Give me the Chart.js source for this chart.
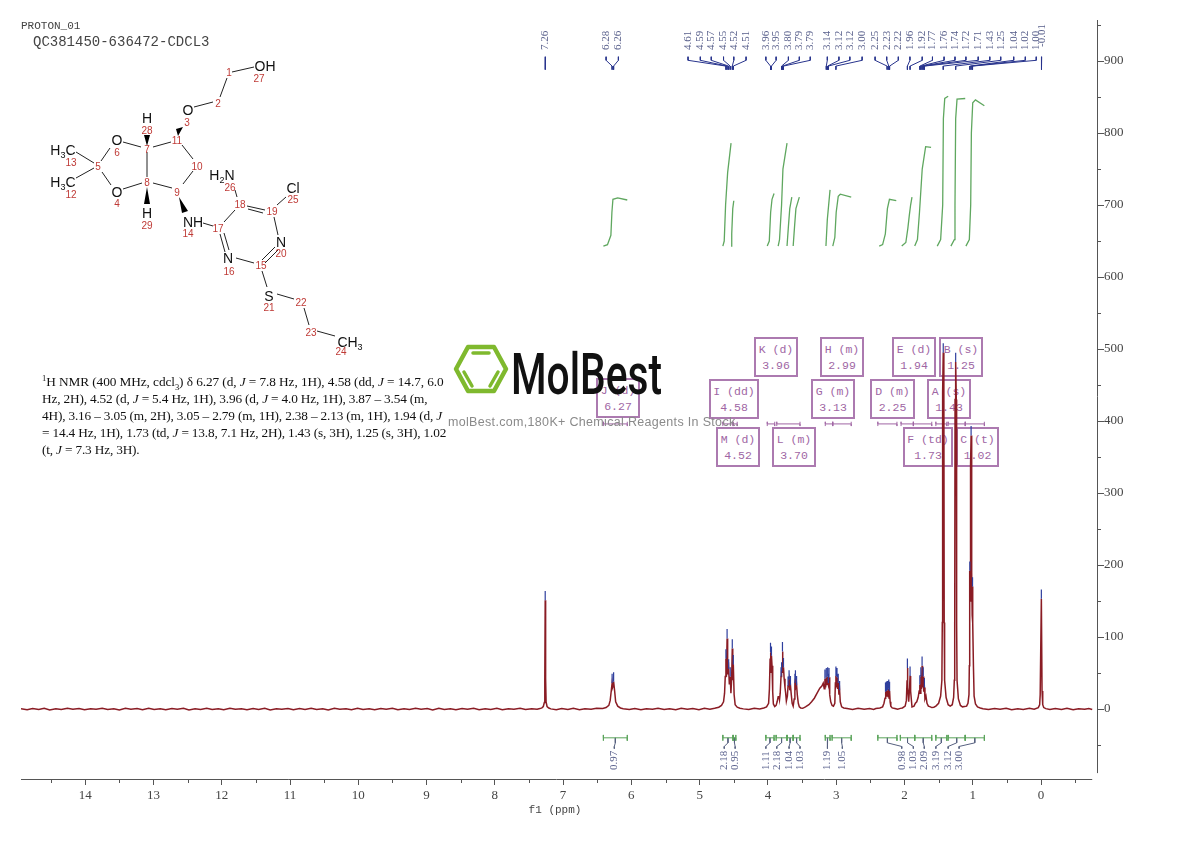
<!DOCTYPE html>
<html lang="en">
<head>
<meta charset="UTF-8">
<title>PROTON_01 QC381450-636472-CDCL3</title>
<script src="https://cdn.jsdelivr.net/npm/chart.js@4"></script>
<style>
    html, body { margin: 0; padding: 0; background: #fff; }
    #page { position: relative; width: 1190px; height: 841px; overflow: hidden; }
    #plot { position: absolute; left: 0; top: 0; z-index: 1; display: block; }
    .box {
        position: absolute; box-sizing: border-box; z-index: 0;
        border: 2px solid #ac7ab0; color: #a066a4; text-align: center;
        font: 11.5px/16px "Liberation Mono", monospace; padding-top: 3px; white-space: pre;
    }
    .head { position: absolute; z-index: 2; font-family: "Liberation Mono", monospace; color: #444; white-space: pre; }
    #notes {
        position: absolute; z-index: 2; left: 42px; top: 373px; white-space: nowrap;
        font: 13.3px/17px "Liberation Serif", serif; color: #111; letter-spacing: -0.08px;
    }
    #notes span { letter-spacing: -0.17px; }
    #notes sup, #notes sub { font-size: 8.5px; line-height: 0; }
    #mol, #logo { position: absolute; left: 0; top: 0; z-index: 2; pointer-events: none; }
</style>
</head>
<body>
<div id="page">
    <canvas id="plot" width="1190" height="841"></canvas>
    <div class="head" style="left:21px;top:20px;font-size:11px">PROTON_01</div>
    <div class="head" style="left:33px;top:34px;font-size:14px">QC381450-636472-CDCL3</div>
    <div id="notes"><sup>1</sup>H NMR (400 MHz, cdcl<sub>3</sub>) δ 6.27 (d, <i>J</i> = 7.8 Hz, 1H), 4.58 (dd, <i>J</i> = 14.7, 6.0<br><span>Hz, 2H), 4.52 (d, <i>J</i> = 5.4 Hz, 1H), 3.96 (d, <i>J</i> = 4.0 Hz, 1H), 3.87 – 3.54 (m,<br>4H), 3.16 – 3.05 (m, 2H), 3.05 – 2.79 (m, 1H), 2.38 – 2.13 (m, 1H), 1.94 (d, <i>J</i><br>= 14.4 Hz, 1H), 1.73 (td, <i>J</i> = 13.8, 7.1 Hz, 2H), 1.43 (s, 3H), 1.25 (s, 3H), 1.02<br>(t, <i>J</i> = 7.3 Hz, 3H).</span></div>

    <svg id="mol" width="1190" height="841" font-family="Liberation Sans, sans-serif">
        <path fill="none" stroke="#222" stroke-width="1" d="M232 72L254 67M227 78L220 97M213 102L194 107M171 142L153 147M182 145L193 159M193 171L183 184M172 188L153 183M147 177L147 152M141 147L123 142M142 183L123 189M110 148L101 161M111 185L102 172M94 163L76 152M94 168L76 178M203 223L213 226M224 222L235 210M247 206L265 210M248 209L263 213M277 205L286 197M237 197L235 190M274 217L278 235M275 247L262 260M278 250L265 263M254 263L236 258M225 252L220 234M229 250L224 233M262 271L267 287M277 294L294 299M304 308L309 325M317 331L335 336"/>
        <path fill="#000" d="M178 136L176 129L183 127ZM147 146L144 135L150 135ZM147 187L144 204L150 204ZM179 197L182 213L188 211Z"/>
        <g font-size="14" fill="#111" text-anchor="middle">
            <text x="265" y="71">OH</text><text x="188" y="115">O</text><text x="147" y="123">H</text>
            <text x="117" y="145">O</text><text x="117" y="197">O</text><text x="147" y="218">H</text>
            <text x="193" y="227">NH</text><text x="293" y="193">Cl</text><text x="281" y="247">N</text>
            <text x="228" y="263">N</text><text x="269" y="301">S</text>
            <text x="63" y="155">H<tspan font-size="9" dy="3">3</tspan><tspan dy="-3">C</tspan></text>
            <text x="63" y="187">H<tspan font-size="9" dy="3">3</tspan><tspan dy="-3">C</tspan></text>
            <text x="222" y="180">H<tspan font-size="9" dy="3">2</tspan><tspan dy="-3">N</tspan></text>
            <text x="350" y="347">CH<tspan font-size="9" dy="3">3</tspan></text>
        </g>
        <g font-size="10" fill="#bf3a36" text-anchor="middle">
            <text x="229" y="76">1</text><text x="218" y="107">2</text><text x="187" y="126">3</text><text x="117" y="207">4</text>
            <text x="98" y="170">5</text><text x="117" y="156">6</text><text x="147" y="153">7</text><text x="147" y="186">8</text>
            <text x="177" y="196">9</text><text x="197" y="170">10</text><text x="177" y="144">11</text><text x="71" y="198">12</text>
            <text x="71" y="166">13</text><text x="188" y="237">14</text><text x="261" y="269">15</text><text x="229" y="275">16</text>
            <text x="218" y="232">17</text><text x="240" y="208">18</text><text x="272" y="215">19</text><text x="281" y="257">20</text>
            <text x="269" y="311">21</text><text x="301" y="306">22</text><text x="311" y="336">23</text><text x="341" y="355">24</text>
            <text x="293" y="203">25</text><text x="230" y="191">26</text><text x="259" y="82">27</text><text x="147" y="134">28</text>
            <text x="147" y="229">29</text>
        </g>
    </svg>

    <svg id="logo" width="1190" height="841">
        <path fill="none" stroke="#7fb92e" stroke-width="4.5" stroke-linejoin="round" d="M456 369L468 347H494L506 369L494 391H468Z"/>
        <path fill="none" stroke="#7fb92e" stroke-width="3.500" stroke-linecap="round" d="M473 353H489M464 372L472 386M498 372L490 386"/>
        <text x="511" y="394" font-family="Roboto, sans-serif" font-weight="500" font-size="57" fill="#111" textLength="151" lengthAdjust="spacingAndGlyphs">MolBest</text>
        <text x="448" y="426" font-family="Liberation Sans, sans-serif" font-size="12.500" fill="#8a8a8a" textLength="291" lengthAdjust="spacing">molBest.com,180K+ Chemical Reagents In Stock.</text>
    </svg>
</div>

<script>
    // axis ticks
    const xTickValues = [14, 13, 12, 11, 10, 9, 8, 7, 6, 5, 4, 3, 2, 1, 0];
    const xMinorValues = [14.5, 13.5, 12.5, 11.5, 10.5, 9.5, 8.5, 7.5, 6.5, 5.5, 4.5, 3.5, 2.5, 1.5, 0.5, -0.5];
    const yTickValues = [900, 800, 700, 600, 500, 400, 300, 200, 100, 0];
    const yMinorValues = [950, 850, 750, 650, 550, 450, 350, 250, 150, 50, -50];

    // spectrum, [ppm, intensity], region by region
    const baselineLow = [[14.94,0.4],[14.85,-0.9],[14.77,0.8],[14.68,-0.5],[14.6,1.1],[14.52,-1.2],[14.43,0.3],[14.35,-0.7],[14.26,1.0],[14.18,-0.4],[14.09,0.7],[14.01,-1.1],[13.92,0.5],[13.84,-0.3],[13.75,1.2],[13.67,-0.8],[13.58,0.2],[13.5,-1.3],[13.41,0.9],[13.33,-0.2],[13.24,0.6],[13.16,-1.0],[13.07,1.1],[12.99,-0.6],[12.9,0.4],[12.82,-0.9],[12.73,0.8],[12.65,-0.3],[12.56,1.0],[12.48,-1.2],[12.39,0.3],[12.31,-0.5],[12.22,0.9],[12.14,-0.8],[12.05,0.5],[11.97,-1.1],[11.88,1.2],[11.8,-0.4],[11.71,0.2],[11.63,-0.9],[11.54,0.7],[11.46,-0.6],[11.37,1.0],[11.29,-1.2],[11.2,0.4],[11.12,-0.2],[11.03,0.8],[10.95,-1.0],[10.86,0.6],[10.78,-0.5],[10.69,1.1],[10.61,-0.8],[10.52,0.3],[10.44,-1.3],[10.35,0.9],[10.27,-0.3],[10.18,0.5],[10.1,-0.9],[10.01,1.2],[9.93,-0.6],[9.84,0.2],[9.76,-1.0],[9.67,0.7],[9.59,-0.4],[9.5,1.0],[9.42,-1.1],[9.33,0.4],[9.25,-0.7],[9.16,0.9],[9.08,-0.2],[8.99,0.6],[8.91,-1.2],[8.82,1.1],[8.74,-0.5],[8.65,0.3],[8.57,-0.9],[8.48,0.8],[8.4,-0.3],[8.31,1.0],[8.23,-1.0],[8.14,0.5],[8.06,-0.6],[7.97,0.9],[7.89,-1.1],[7.8,0.4],[7.72,-0.2],[7.63,1.0],[7.55,-0.8],[7.46,0.5],[7.38,-0.4]];
    const peakChloroform = [[7.34,0.6],[7.31,1.6],[7.29,3.5],[7.275,9],[7.268,40],[7.262,151],[7.256,42],[7.249,10],[7.235,3.5],[7.21,1.4],[7.18,0.2]];
    const baselineA = [[7.1,-0.9],[7.02,0.8],[6.93,-0.5],[6.85,1.0],[6.76,-1.0],[6.68,0.4],[6.59,-0.3],[6.51,0.9]];
    const peakVinyl = [[6.42,0.8],[6.37,2],[6.33,5],[6.31,12],[6.295,25],[6.282,36],[6.275,30],[6.268,32],[6.26,38],[6.245,25],[6.23,10],[6.2,4],[6.16,1.5],[6.12,0.4]];
    const baselineB = [[6.03,-0.8],[5.95,0.7],[5.86,-1.0],[5.78,0.5],[5.69,-0.3],[5.61,1.0],[5.52,-0.7],[5.44,0.3],[5.35,-1.1],[5.27,0.9],[5.18,-0.4],[5.1,0.6],[5.01,-0.9],[4.93,1.1],[4.85,-0.2]];
    const groupIM = [[4.78,1],[4.72,2.5],[4.68,5],[4.65,10],[4.635,22],[4.625,45],[4.615,70],[4.608,45],[4.598,98],[4.59,48],[4.575,56],[4.565,34],[4.552,45],[4.542,22],[4.532,40],[4.522,84],[4.515,40],[4.507,62],[4.495,20],[4.48,6],[4.45,2.5],[4.41,1],[4.36,0.2]];
    const baselineC = [[4.28,-0.6],[4.2,0.9],[4.12,0.2]];
    const groupKL = [[4.06,1.5],[4.02,3],[3.99,8],[3.978,28],[3.968,70],[3.962,79],[3.956,50],[3.948,74],[3.94,60],[3.93,24],[3.92,7],[3.9,3.5],[3.88,5],[3.865,10],[3.85,17],[3.838,18],[3.83,13],[3.82,22],[3.808,45],[3.8,52],[3.793,62],[3.787,80],[3.78,50],[3.772,58],[3.762,42],[3.75,30],[3.74,22],[3.73,11],[3.715,18],[3.705,32],[3.695,38],[3.69,41],[3.68,26],[3.67,33],[3.66,22],[3.645,8],[3.63,4],[3.615,14],[3.605,36],[3.597,41],[3.59,30],[3.58,33],[3.57,20],[3.555,8],[3.54,3],[3.52,1.5]];
    const groupGH = [[3.49,1],[3.45,3],[3.4,6],[3.36,10],[3.32,15],[3.28,22],[3.24,29],[3.21,32],[3.19,36],[3.175,28],[3.165,42],[3.155,30],[3.145,44],[3.135,33],[3.125,45],[3.115,36],[3.105,44],[3.095,20],[3.08,10],[3.06,5],[3.04,4],[3.02,8],[3.012,36],[3.004,46],[2.996,30],[2.988,44],[2.98,28],[2.97,36],[2.96,20],[2.95,26],[2.94,10],[2.92,3],[2.89,1.5],[2.84,0.6]];
    const baselineD = [[2.76,-0.7],[2.68,0.9],[2.59,-0.4],[2.51,0.6],[2.45,-0.6]];
    const groupD = [[2.42,0.6],[2.36,1.5],[2.32,3],[2.3,8],[2.285,15],[2.278,24],[2.272,16],[2.266,25],[2.26,17],[2.254,26],[2.248,17],[2.242,26],[2.236,17],[2.23,28],[2.224,15],[2.218,25],[2.21,10],[2.2,4],[2.18,1.5],[2.14,0.8]];
    const baselineE = [[2.1,-0.4],[2.06,0.9]];
    const groupEF = [[2.03,1.5],[1.99,4],[1.972,12],[1.962,40],[1.957,57],[1.95,30],[1.938,10],[1.925,30],[1.918,46],[1.91,25],[1.89,3],[1.86,4],[1.84,8],[1.82,10],[1.8,16],[1.785,25],[1.775,34],[1.77,22],[1.76,45],[1.752,28],[1.742,60],[1.735,30],[1.725,45],[1.718,24],[1.708,30],[1.7,14],[1.685,18],[1.67,8],[1.65,4],[1.62,3],[1.6,2],[1.57,2.5]];
    const groupABC = [[1.54,4],[1.5,8],[1.47,18],[1.452,40],[1.446,120],[1.441,440],[1.432,495],[1.423,440],[1.418,120],[1.412,40],[1.39,16],[1.36,6],[1.33,4],[1.3,6],[1.28,16],[1.27,40],[1.264,120],[1.259,430],[1.25,482],[1.241,430],[1.236,120],[1.23,40],[1.21,14],[1.18,5],[1.15,3],[1.12,3.5],[1.09,4],[1.07,8],[1.055,20],[1.05,60],[1.046,150],[1.043,192],[1.039,150],[1.034,200],[1.03,340],[1.024,380],[1.018,340],[1.013,190],[1.008,130],[1.003,170],[0.998,120],[0.99,60],[0.98,18],[0.96,7],[0.93,3],[0.89,1.5],[0.85,0.4]];
    const baselineF = [[0.77,-0.8],[0.68,0.6],[0.6,-0.4],[0.51,0.9],[0.43,-0.9],[0.34,0.3],[0.26,-0.5],[0.17,1.0],[0.1,-0.3]];
    const peakTms = [[0.04,2],[0.02,6],[0.012,20],[-0.005,153],[-0.015,25],[-0.025,6],[-0.04,2],[-0.07,0.5]];
    const baselineHigh = [[-0.13,-0.8],[-0.21,0.7],[-0.3,-0.5],[-0.38,1.0],[-0.47,-1.0],[-0.55,0.4],[-0.64,-0.3],[-0.7,0.8],[-0.75,-0.6]];

    // picked peaks: printed label, position, label slot above the plot, intensity at the pick
    const peakLabels = ['7.26','6.28','6.26','4.61','4.59','4.57','4.55','4.52','4.51','3.96','3.95','3.80','3.79','3.79','3.14','3.12','3.12','3.00','2.25','2.23','2.22','1.96','1.92','1.77','1.76','1.74','1.72','1.71','1.43','1.25','1.04','1.02','1.00','-0.01'];
    const peakPpm = [7.262,6.282,6.26,4.615,4.598,4.575,4.552,4.522,4.507,3.962,3.948,3.8,3.787,3.772,3.145,3.125,3.115,3.004,2.254,2.23,2.218,1.957,1.918,1.775,1.76,1.742,1.725,1.708,1.432,1.25,1.043,1.024,1.003,-0.005];
    const peakSlots = [7.26,6.37,6.19,5.17,4.99,4.83,4.65,4.5,4.32,4.03,3.88,3.7,3.54,3.38,3.13,2.96,2.8,2.62,2.43,2.26,2.09,1.92,1.74,1.59,1.42,1.26,1.1,0.92,0.75,0.59,0.4,0.23,0.07,-0.01];
    const peakHeights = [151,36,38,70,98,56,45,84,62,79,74,52,80,58,44,45,36,46,26,28,25,57,46,34,45,60,45,30,495,482,192,380,170,153];
    // picks in the multiplets that have no printed label
    const extraPickPpm = [3.808,3.705,3.69,3.67,3.605,3.597,3.58,3.165,3.105,2.988,2.97,2.95,2.278,2.266,2.242];
    const extraPickHeights = [45,32,41,33,36,41,33,42,44,44,36,26,24,25,26];

    // integral curves
    const integralCurves = [
        [[6.41,643],[6.35,645],[6.3,658],[6.285,690],[6.27,708],[6.2,710],[6.06,707]],
        [[4.66,643],[4.64,650],[4.62,700],[4.59,745],[4.54,786]],
        [[4.54,643],[4.53,660],[4.515,695],[4.5,706]],
        [[4.01,643],[3.98,650],[3.96,690],[3.94,708],[3.91,716]],
        [[3.85,643],[3.83,652],[3.8,700],[3.78,750],[3.72,786]],
        [[3.72,643],[3.7,670],[3.68,695],[3.65,711]],
        [[3.63,643],[3.61,670],[3.59,695],[3.54,711]],
        [[3.15,643],[3.13,680],[3.09,721]],
        [[3.05,643],[3.02,655],[3,690],[2.97,712],[2.94,715],[2.78,711]],
        [[2.37,643],[2.32,645],[2.28,660],[2.25,695],[2.22,708],[2.12,706]],
        [[2.04,643],[1.98,648],[1.95,668],[1.93,685],[1.91,700],[1.89,711]],
        [[1.85,643],[1.81,652],[1.78,690],[1.74,750],[1.69,781],[1.61,780]],
        [[1.52,643],[1.47,652],[1.44,700],[1.43,820],[1.41,848],[1.36,851]],
        [[1.32,643],[1.27,652],[1.26,700],[1.25,820],[1.23,847],[1.11,848]],
        [[1.1,643],[1.05,652],[1.03,700],[1.02,800],[1,842],[0.96,846],[0.83,838]]
    ];

    // integral values under the spectrum
    const integralLabels = ['0.97','2.18','0.95','1.11','2.18','1.04','1.03','1.19','1.05','0.98','1.03','2.09','3.19','3.12','3.00'];
    const integralStart = [6.41,4.66,4.51,4.03,3.88,3.72,3.63,3.16,3.06,2.39,2.06,1.85,1.54,1.36,1.11];
    const integralEnd = [6.06,4.51,4.47,3.91,3.72,3.63,3.53,3.09,2.78,2.11,1.85,1.6,1.38,1.11,0.83];
    const integralSlots = [6.25,4.64,4.48,4.03,3.87,3.69,3.53,3.13,2.91,2.04,1.87,1.71,1.54,1.36,1.2];

    // multiplet boxes and their range bars
    const multipletNames = ['J (d)','I (dd)','M (d)','K (d)','L (m)','G (m)','H (m)','D (m)','E (d)','F (td)','A (s)','B (s)','C (t)'];
    const multipletShifts = ['6.27','4.58','4.52','3.96','3.70','3.13','2.99','2.25','1.94','1.73','1.43','1.25','1.02'];
    const multipletStart = [6.41,4.66,4.51,4.01,3.87,3.16,3.05,2.39,2.05,1.87,1.54,1.36,1.11];
    const multipletEnd = [6.06,4.51,4.45,3.9,3.53,3.05,2.78,2.11,1.87,1.6,1.38,1.11,0.83];
    const boxLayout = [[596,378,44],[709,379,50],[716,427,44],[754,337,44],[772,427,44],[811,379,44],[820,337,44],[870,379,45],[892,337,44],[903,427,50],[927,379,44],[939,337,44],[956,427,43]];

    const spectrum = [].concat(baselineLow, peakChloroform, baselineA, peakVinyl, baselineB, groupIM, baselineC, groupKL, groupGH, baselineD, groupD, baselineE, groupEF, groupABC, baselineF, peakTms, baselineHigh);

    const toPoints = list => list.map(p => ({ x: p[0], y: p[1] }));

    // blue pick ticks sit on top of each peak
    const pickTicks = [];
    peakPpm.concat(extraPickPpm).forEach((ppm, i) => {
        const h = peakHeights.concat(extraPickHeights)[i];
        pickTicks.push({ x: ppm, y: h }, { x: ppm, y: h + 13 }, { x: ppm, y: null });
    });

    // leaders from the printed labels down to the peaks
    const leaders = [];
    peakPpm.forEach((ppm, i) => {
        leaders.push({ x: peakSlots[i], y: 906 }, { x: peakSlots[i], y: 901 }, { x: ppm, y: 893 }, { x: ppm, y: 888 }, { x: ppm, y: null });
    });

    const integralCurvePoints = [];
    integralCurves.forEach(c => { integralCurvePoints.push(...toPoints(c), { x: c[0][0], y: null }); });

    const integralBars = [];
    const integralLeaders = [];
    integralStart.forEach((a, i) => {
        const b = integralEnd[i];
        const mid = (a + b) / 2;
        integralBars.push({ x: a, y: -36 }, { x: a, y: -44 }, { x: a, y: -40 }, { x: b, y: -40 }, { x: b, y: -36 }, { x: b, y: -44 }, { x: b, y: null });
        integralLeaders.push({ x: mid, y: -40 }, { x: mid, y: -47 }, { x: integralSlots[i], y: -52 }, { x: integralSlots[i], y: -55 }, { x: mid, y: null });
    });

    const multipletBars = [];
    multipletStart.forEach((a, i) => {
        const b = multipletEnd[i];
        multipletBars.push({ x: a, y: 393 }, { x: a, y: 399 }, { x: a, y: 396 }, { x: b, y: 396 }, { x: b, y: 393 }, { x: b, y: 399 }, { x: b, y: null });
    });

    // boxes go under the canvas so the tall peaks cross them
    const page = document.getElementById('page');
    multipletNames.forEach((name, i) => {
        const box = document.createElement('div');
        box.className = 'box';
        box.style.left = boxLayout[i][0] + 'px';
        box.style.top = boxLayout[i][1] + 'px';
        box.style.width = boxLayout[i][2] + 'px';
        box.style.height = '40px';
        box.textContent = name + '\n' + multipletShifts[i];
        page.appendChild(box);
    });

    function lineSet(data, color, width, order) {
        return { data, borderColor: color, borderWidth: width, showLine: true, pointRadius: 0, tension: 0, spanGaps: false, order };
    }

    // minor ticks, axis lines and the rotated peak and integral labels
    const overlay = {
        id: 'overlay',
        afterDraw(chart) {
            const { ctx } = chart;
            const x = chart.scales.x;
            const y = chart.scales.y;
            const axisY = y.getPixelForValue(-97.2);
            const axisX = x.getPixelForValue(-0.82);
            ctx.save();
            ctx.strokeStyle = '#555';
            ctx.lineWidth = 1;
            ctx.beginPath();
            ctx.moveTo(x.getPixelForValue(14.94), axisY + 0.5);
            ctx.lineTo(x.getPixelForValue(-0.75), axisY + 0.5);
            ctx.moveTo(axisX + 0.5, y.getPixelForValue(957));
            ctx.lineTo(axisX + 0.5, y.getPixelForValue(-89));
            xMinorValues.forEach(v => {
                const px = Math.round(x.getPixelForValue(v)) + 0.5;
                ctx.moveTo(px, axisY);
                ctx.lineTo(px, axisY + 4);
            });
            yMinorValues.forEach(v => {
                const py = Math.round(y.getPixelForValue(v)) + 0.5;
                ctx.moveTo(axisX, py);
                ctx.lineTo(axisX + 4, py);
            });
            ctx.stroke();

            ctx.font = '11px "Liberation Serif", serif';
            ctx.fillStyle = '#59608c';
            ctx.textBaseline = 'middle';
            ctx.textAlign = 'left';
            peakLabels.forEach((label, i) => {
                ctx.save();
                ctx.translate(x.getPixelForValue(peakSlots[i]), label === '-0.01' ? 47 : 50);
                ctx.rotate(-Math.PI / 2);
                ctx.fillText(label, 0, 0);
                ctx.restore();
            });
            integralLabels.forEach((label, i) => {
                ctx.save();
                ctx.translate(x.getPixelForValue(integralSlots[i]), 770);
                ctx.rotate(-Math.PI / 2);
                ctx.fillText(label, 0, 0);
                ctx.restore();
            });

            ctx.font = '11px "Liberation Mono", monospace';
            ctx.fillStyle = '#444';
            ctx.textAlign = 'center';
            ctx.fillText('f1 (ppm)', 555, 810);
            ctx.restore();
        }
    };

    new Chart(document.getElementById('plot'), {
        type: 'scatter',
        data: {
            datasets: [
                lineSet(pickTicks, '#2f3f9e', 1.2, 1),
                lineSet(toPoints(spectrum), '#8a1c24', 1.5, 2),
                lineSet(leaders, '#27338c', 1, 3),
                lineSet(integralCurvePoints, '#5fa75f', 1.3, 4),
                lineSet(integralBars, '#5aa35a', 1, 5),
                lineSet(integralLeaders, '#56607f', 1, 6),
                lineSet(multipletBars, '#a066a4', 1, 7)
            ]
        },
        plugins: [overlay],
        options: {
            responsive: false,
            animation: false,
            events: [],
            layout: { padding: { left: 21, top: 20, right: 0, bottom: 0 } },
            plugins: { legend: { display: false }, tooltip: { enabled: false } },
            scales: {
                x: {
                    type: 'linear',
                    reverse: true,
                    min: -0.82,
                    max: 14.94,
                    afterBuildTicks: scale => { scale.ticks = xTickValues.map(value => ({ value })); },
                    afterFit: scale => { scale.height = 62; },
                    border: { display: false },
                    grid: { drawOnChartArea: false, tickLength: 6, tickColor: '#555' },
                    ticks: {
                        autoSkip: false,
                        maxRotation: 0,
                        padding: 3,
                        color: '#444',
                        font: { family: '"Liberation Serif", serif', size: 13 },
                        callback: value => String(value)
                    }
                },
                y: {
                    type: 'linear',
                    position: 'right',
                    min: -97.2,
                    max: 957,
                    afterBuildTicks: scale => { scale.ticks = yTickValues.map(value => ({ value })); },
                    afterFit: scale => { scale.width = 93; },
                    border: { display: false },
                    grid: { drawOnChartArea: false, tickLength: 7, tickColor: '#555' },
                    ticks: {
                        autoSkip: false,
                        padding: 0,
                        color: '#444',
                        font: { family: '"Liberation Serif", serif', size: 13 },
                        callback: value => String(value)
                    }
                }
            }
        }
    });
</script>
</body>
</html>
